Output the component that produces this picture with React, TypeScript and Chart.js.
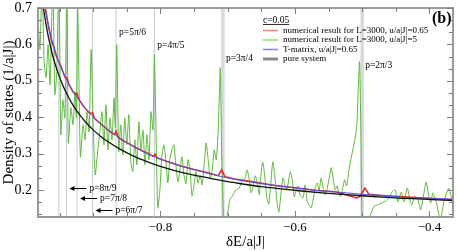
import React, { useEffect, useRef } from "react";
import { Chart, registerables } from "chart.js";

Chart.register(...registerables);

const FONT = '"Liberation Serif", "Times New Roman", serif';

// ---------- axis ticks ----------
const xTickValues = [-0.8, -0.6, -0.4];
const xTickLabels = ["\u22120.8", "\u22120.6", "\u22120.4"];
const yTickValues = [0.2, 0.3, 0.4, 0.5, 0.6, 0.7];
const yTickLabels = ["0.2", "0.3", "0.4", "0.5", "0.6", "0.7"];

// ---------- resonance positions  (δE = cos p) ----------
const resonanceE = [-0.951, -0.9397, -0.9239, -0.901, -0.866, -0.809, -0.7071, -0.5];
const resonanceLabels = ["p=9π/10", "p=8π/9", "p=7π/8", "p=6π/7", "p=5π/6", "p=4π/5", "p=3π/4", "p=2π/3"];

// ---------- legend ----------
const legendTitle = "c=0.05";
const legendLabels = [
  "numerical result for L=3000, u/a|J|=0.65",
  "numerical result for L=3000, u/a|J|=5",
  "T-matrix, u/a|J|=0.65",
  "pure system",
];

// ---------- pure system ----------
const blackX = [-0.978, -0.975, -0.972, -0.968, -0.964, -0.96, -0.955, -0.95, -0.945, -0.94, -0.93, -0.92, -0.91, -0.9, -0.89, -0.88, -0.86, -0.84, -0.82, -0.8, -0.77, -0.74, -0.71, -0.68, -0.65, -0.62, -0.59, -0.56, -0.53, -0.5, -0.47, -0.44, -0.41, -0.38, -0.365];
const blackY = [0.763, 0.716, 0.677, 0.634, 0.599, 0.568, 0.537, 0.51, 0.487, 0.467, 0.433, 0.406, 0.384, 0.365, 0.349, 0.335, 0.312, 0.293, 0.278, 0.265, 0.249, 0.237, 0.226, 0.217, 0.209, 0.203, 0.197, 0.192, 0.188, 0.184, 0.18, 0.177, 0.175, 0.172, 0.171];

// ---------- T-matrix u=0.65 ----------
const blueX = [-0.975, -0.972, -0.968, -0.964, -0.96, -0.955, -0.95, -0.945, -0.94, -0.93, -0.92, -0.91, -0.9, -0.89, -0.88, -0.86, -0.84, -0.82, -0.8, -0.77, -0.74, -0.71, -0.68, -0.65, -0.62, -0.59, -0.56, -0.53, -0.5, -0.47, -0.44, -0.41, -0.38, -0.365];
const blueY = [0.736, 0.705, 0.666, 0.633, 0.603, 0.573, 0.547, 0.524, 0.505, 0.471, 0.444, 0.421, 0.401, 0.383, 0.368, 0.342, 0.319, 0.3, 0.285, 0.266, 0.251, 0.237, 0.226, 0.217, 0.21, 0.203, 0.197, 0.193, 0.188, 0.184, 0.18, 0.178, 0.175, 0.174];

// ---------- numerical L=3000, u=0.65 ----------
const redX = [-0.971, -0.966, -0.962, -0.958, -0.956, -0.952, -0.949, -0.946, -0.942, -0.939, -0.936, -0.93, -0.926, -0.924, -0.921, -0.915, -0.91, -0.905, -0.901, -0.898, -0.89, -0.88, -0.875, -0.868, -0.866, -0.863, -0.855, -0.845, -0.835, -0.825, -0.815, -0.81, -0.808, -0.805, -0.79, -0.77, -0.75, -0.73, -0.714, -0.709, -0.704, -0.69, -0.66, -0.63, -0.6, -0.57, -0.54, -0.508, -0.503, -0.496, -0.49, -0.47, -0.44, -0.41, -0.38, -0.365];
const redY = [0.7, 0.645, 0.61, 0.59, 0.575, 0.555, 0.545, 0.53, 0.51, 0.508, 0.49, 0.47, 0.462, 0.465, 0.448, 0.432, 0.42, 0.41, 0.412, 0.396, 0.384, 0.368, 0.36, 0.352, 0.362, 0.345, 0.335, 0.325, 0.315, 0.306, 0.297, 0.292, 0.298, 0.288, 0.278, 0.266, 0.256, 0.247, 0.239, 0.255, 0.236, 0.23, 0.222, 0.212, 0.206, 0.199, 0.195, 0.178, 0.183, 0.205, 0.188, 0.185, 0.181, 0.178, 0.175, 0.174];

// ---------- numerical L=3000, u=5 ----------
const greenX = [
  -0.982, -0.979, -0.976, -0.973, -0.97, -0.967, -0.964, -0.96, -0.957, -0.954, -0.951, -0.948, -0.945, -0.942, -0.939, -0.937, -0.933, -0.93, -0.927, -0.925, -0.923, -0.919, -0.915, -0.912, -0.909, -0.906, -0.903, -0.9, -0.897, -0.893, -0.89,
  -0.887, -0.884, -0.881, -0.878, -0.875, -0.872, -0.869, -0.867, -0.865, -0.862, -0.859, -0.856, -0.853, -0.85, -0.847, -0.844, -0.841, -0.838, -0.835, -0.832, -0.829, -0.826, -0.823, -0.82, -0.817, -0.814, -0.811, -0.809, -0.806, -0.804, -0.801, -0.798, -0.795,
  -0.792, -0.789, -0.786, -0.783, -0.78, -0.777, -0.774, -0.771, -0.768, -0.765, -0.762, -0.759, -0.756, -0.753, -0.75, -0.747, -0.744, -0.741, -0.738, -0.735, -0.732, -0.729, -0.726, -0.723, -0.72, -0.717, -0.714, -0.711, -0.709, -0.706, -0.703, -0.7, -0.697,
  -0.692, -0.688, -0.683, -0.679, -0.674, -0.671, -0.668, -0.665, -0.662, -0.659, -0.656, -0.653, -0.651, -0.648, -0.645, -0.642, -0.639, -0.636, -0.633, -0.63, -0.627, -0.624, -0.621, -0.618, -0.615, -0.612, -0.607, -0.604, -0.601, -0.598, -0.595, -0.593, -0.588, -0.585, -0.582, -0.579,
  -0.576, -0.573, -0.57, -0.567, -0.564, -0.561, -0.558, -0.555, -0.552, -0.549, -0.546, -0.543, -0.54, -0.537, -0.535, -0.532, -0.529, -0.526, -0.523, -0.52, -0.517, -0.514, -0.511, -0.508, -0.504, -0.502, -0.5, -0.494, -0.488, -0.482,
  -0.477, -0.471, -0.465, -0.46, -0.456, -0.451, -0.447, -0.442, -0.438, -0.433, -0.429, -0.426, -0.422, -0.417, -0.413, -0.408, -0.405, -0.401, -0.398, -0.395, -0.392, -0.389, -0.386, -0.383, -0.378, -0.374, -0.371, -0.368, -0.365,
];
const greenY = [
  0.669, 0.586, 0.78, 0.558, 0.509, 0.599, 0.489, 0.78, 0.462, 0.525, 0.78, 0.352, 0.448, 0.398, 0.78, 0.329, 0.426, 0.379, 0.47, 0.398, 0.7, 0.291, 0.379, 0.338, 0.415, 0.36, 0.586, 0.379, 0.241, 0.31, 0.36,
  0.415, 0.324, 0.434, 0.31, 0.398, 0.338, 0.453, 0.371, 0.599, 0.305, 0.379, 0.296, 0.398, 0.324, 0.407, 0.277, 0.25, 0.338, 0.269, 0.387, 0.31, 0.365, 0.269, 0.352, 0.283, 0.415, 0.365, 0.572, 0.31, 0.15, 0.194, 0.288, 0.324,
  0.283, 0.219, 0.283, 0.31, 0.324, 0.269, 0.222, 0.255, 0.291, 0.241, 0.217, 0.283, 0.255, 0.183, 0.214, 0.25, 0.219, 0.239, 0.214, 0.269, 0.329, 0.283, 0.233, 0.255, 0.31, 0.283, 0.365, 0.536, 0.31, 0.12, 0.117, 0.137, 0.172,
  0.186, 0.2, 0.205, 0.222, 0.233, 0.255, 0.228, 0.192, 0.211, 0.239, 0.219, 0.186, 0.233, 0.277, 0.241, 0.181, 0.161, 0.214, 0.277, 0.241, 0.172, 0.139, 0.186, 0.233, 0.214, 0.2, 0.25, 0.228, 0.181, 0.2, 0.211, 0.189, 0.178, 0.214, 0.172, 0.159,
  0.15, 0.172, 0.205, 0.219, 0.2, 0.233, 0.205, 0.186, 0.205, 0.233, 0.261, 0.228, 0.2, 0.211, 0.192, 0.181, 0.205, 0.228, 0.211, 0.25, 0.283, 0.31, 0.338, 0.379, 0.553, 0.365, 0.117, 0.112, 0.131, 0.156,
  0.159, 0.164, 0.17, 0.178, 0.194, 0.2, 0.167, 0.194, 0.167, 0.205, 0.172, 0.159, 0.183, 0.172, 0.145, 0.194, 0.222, 0.183, 0.164, 0.192, 0.178, 0.161, 0.131, 0.123, 0.172, 0.194, 0.205, 0.183, 0.172,
];

function pts(xs: number[], ys: number[]) {
  return xs.map((x, i) => ({ x, y: ys[i] }));
}

const decorPlugin = {
  id: "decor",
  beforeDatasetsDraw(chart: any) {
    const { ctx, chartArea: a, scales } = chart;
    const xs = scales.x;
    ctx.save();
    ctx.beginPath();
    ctx.rect(a.left, a.top, a.width, a.height);
    ctx.clip();
    resonanceE.forEach((e, i) => {
      const px = xs.getPixelForValue(e);
      const wide = i >= 6;
      ctx.strokeStyle = wide ? "#d6dade" : "#c3ccd5";
      ctx.lineWidth = wide ? 3.5 : 1;
      ctx.beginPath();
      ctx.moveTo(px, a.top);
      ctx.lineTo(px, a.bottom);
      ctx.stroke();
    });
    ctx.restore();
  },
  afterDraw(chart: any) {
    const { ctx, chartArea: a, scales } = chart;
    const xs = scales.x;
    const ys = scales.y;
    ctx.save();

    // frame
    ctx.strokeStyle = "#9a9a9a";
    ctx.lineWidth = 2;
    ctx.strokeRect(a.left, a.top, a.right - a.left, a.bottom - a.top);

    // ticks (inside, all four sides)
    ctx.strokeStyle = "#7d7d7d";
    ctx.lineWidth = 1;
    for (let k = -20; k <= -7; k++) {
      const v = k * 0.05;
      if (v < xs.min || v > xs.max) continue;
      const px = Math.round(xs.getPixelForValue(v)) + 0.5;
      const len = k % 4 === 0 ? 6 : 4;
      ctx.beginPath();
      ctx.moveTo(px, a.bottom);
      ctx.lineTo(px, a.bottom - len);
      ctx.moveTo(px, a.top);
      ctx.lineTo(px, a.top + len);
      ctx.stroke();
    }
    for (let k = 0; k <= 20; k++) {
      const v = 0.1 + k / 30;
      if (v < ys.min || v > ys.max + 1e-9) continue;
      const py = Math.round(ys.getPixelForValue(v)) + 0.5;
      const len = k % 3 === 0 ? 6 : 4;
      ctx.beginPath();
      ctx.moveTo(a.left, py);
      ctx.lineTo(a.left + len, py);
      ctx.moveTo(a.right, py);
      ctx.lineTo(a.right - len, py);
      ctx.stroke();
    }

    // resonance labels
    ctx.fillStyle = "#000";
    ctx.strokeStyle = "#000";
    ctx.font = `9.5px ${FONT}`;
    ctx.textBaseline = "middle";
    ctx.textAlign = "left";
    const topY: Record<number, number> = { 4: 32, 5: 45, 6: 58, 7: 65 };
    Object.keys(topY).forEach((k) => {
      const i = Number(k);
      const px = xs.getPixelForValue(resonanceE[i]);
      ctx.fillText(resonanceLabels[i], px + 3, topY[i]);
    });
    const arrowY: Record<number, number> = { 1: 188, 2: 198, 3: 210 };
    Object.keys(arrowY).forEach((k) => {
      const i = Number(k);
      const head = xs.getPixelForValue(resonanceE[i]) + 3;
      const y = arrowY[i];
      ctx.lineWidth = 1;
      ctx.beginPath();
      ctx.moveTo(head + 3, y + 0.5);
      ctx.lineTo(head + 17, y + 0.5);
      ctx.stroke();
      ctx.beginPath();
      ctx.moveTo(head, y + 0.5);
      ctx.lineTo(head + 5, y - 2);
      ctx.lineTo(head + 5, y + 3);
      ctx.closePath();
      ctx.fill();
      ctx.fillText(resonanceLabels[i], head + 20, y);
    });

    // legend
    const lx = 263;
    ctx.font = `9.5px ${FONT}`;
    ctx.fillText(legendTitle, lx, 20);
    const tw = ctx.measureText(legendTitle).width;
    ctx.lineWidth = 0.8;
    ctx.beginPath();
    ctx.moveTo(lx, 24.5);
    ctx.lineTo(lx + tw, 24.5);
    ctx.stroke();
    const rowY = [30.5, 40, 49.5, 59];
    const lineCols = ["#ff7a7a", "#93dc7e", "#7f86ee", "#8a8a8a"];
    const lineW = [1.5, 1.5, 1.5, 3];
    ctx.font = `9px ${FONT}`;
    legendLabels.forEach((t, i) => {
      ctx.strokeStyle = lineCols[i];
      ctx.lineWidth = lineW[i];
      ctx.beginPath();
      ctx.moveTo(lx, rowY[i]);
      ctx.lineTo(lx + 15, rowY[i]);
      ctx.stroke();
      ctx.fillStyle = "#000";
      ctx.fillText(t, lx + 20, rowY[i]);
    });

    // panel tag
    ctx.font = `bold 16px ${FONT}`;
    ctx.fillText("(b)", 432, 19);
    ctx.restore();
  },
};

export default function App() {
  const ref = useRef<HTMLCanvasElement | null>(null);
  useEffect(() => {
    if (!ref.current) return;
    const chart = new Chart(ref.current, {
      type: "line",
      data: {
        datasets: [
          { label: "pure system", data: pts(blackX, blackY), borderColor: "#111111", borderWidth: 1.3, pointRadius: 0, cubicInterpolationMode: "monotone" },
          { label: "T-matrix", data: pts(blueX, blueY), borderColor: "#3d5af0", borderWidth: 1, pointRadius: 0, cubicInterpolationMode: "monotone" },
          { label: "u=0.65", data: pts(redX, redY), borderColor: "#ee2020", borderWidth: 1.5, pointRadius: 0, tension: 0 },
          { label: "u=5", data: pts(greenX, greenY), borderColor: "#5cb83a", borderWidth: 1, pointRadius: 0, tension: 0.2 },
        ] as any,
      },
      options: {
        animation: false,
        responsive: false,
        devicePixelRatio: 1,
        events: [],
        layout: { padding: { top: 8, right: 4, left: 0, bottom: 0 } },
        plugins: { legend: { display: false }, tooltip: { enabled: false } },
        scales: {
          x: {
            type: "linear",
            min: -0.982,
            max: -0.365,
            grid: { display: false, drawTicks: false },
            border: { display: false },
            afterBuildTicks: (s: any) => {
              s.ticks = xTickValues.map((value) => ({ value }));
            },
            afterFit: (s: any) => {
              s.height = 34;
              s.paddingLeft = 0;
              s.paddingRight = 0;
            },
            ticks: {
              autoSkip: false,
              maxRotation: 0,
              padding: 3,
              color: "#000",
              font: { family: FONT, size: 13 },
              callback: (v: any) => {
                const i = xTickValues.findIndex((t) => Math.abs(t - v) < 1e-6);
                return i >= 0 ? xTickLabels[i] : "";
              },
            },
            title: { display: true, text: "δE/a|J|", color: "#000", font: { family: FONT, size: 15 }, padding: { top: 2, bottom: 0 } },
          },
          y: {
            type: "linear",
            min: 0.1256,
            max: 0.7,
            grid: { display: false, drawTicks: false },
            border: { display: false },
            afterBuildTicks: (s: any) => {
              s.ticks = yTickValues.map((value) => ({ value }));
            },
            afterFit: (s: any) => {
              s.width = 38;
              s.paddingTop = 0;
              s.paddingBottom = 0;
            },
            ticks: {
              autoSkip: false,
              padding: 6,
              color: "#000",
              font: { family: FONT, size: 14 },
              callback: (v: any) => {
                const i = yTickValues.findIndex((t) => Math.abs(t - v) < 1e-6);
                return i >= 0 ? yTickLabels[i] : "";
              },
            },
            title: { display: true, text: "Density of states (1/a|J|)", color: "#000", font: { family: FONT, size: 15 }, padding: { top: 0, bottom: 0 } },
          },
        },
      } as any,
      plugins: [decorPlugin],
    });
    return () => chart.destroy();
  }, []);
  return (
    <div style={{ position: "absolute", left: 0, top: 0, width: 457, height: 251, background: "#fff" }}>
      <canvas ref={ref} width={457} height={251} style={{ display: "block" }} />
    </div>
  );
}
